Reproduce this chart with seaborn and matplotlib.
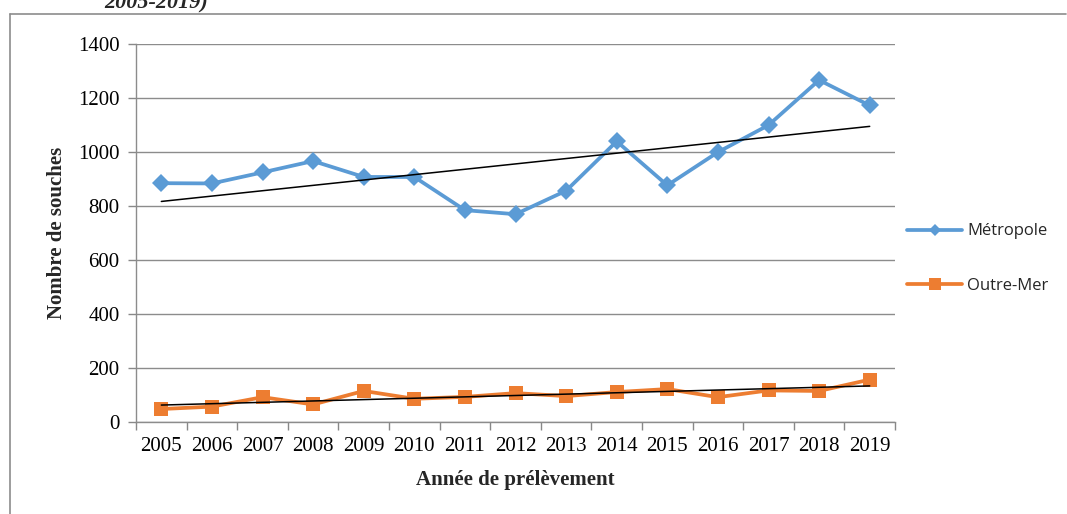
import numpy as np
import pandas as pd
import matplotlib
matplotlib.use("Agg")
import matplotlib.pyplot as plt
from matplotlib.lines import Line2D
import seaborn as sns

years = list(range(2005, 2020))
metropole = [885, 884, 925, 967, 908, 908, 785, 770, 857, 1040, 877, 1000, 1100, 1267, 1173]
outre_mer = [48, 57, 92, 65, 115, 86, 93, 107, 96, 111, 122, 92, 117, 115, 157]
series_names = ["Métropole", "Outre-Mer"]
y_ticks = [0, 200, 400, 600, 800, 1000, 1200, 1400]

sns.set_theme(style="white")
plt.rcParams["font.family"] = ["Liberation Serif", "DejaVu Serif"]

df = pd.DataFrame({
    "Année": years * 2,
    "Nombre": metropole + outre_mer,
    "Série": [series_names[0]] * len(years) + [series_names[1]] * len(years),
})

fig = plt.figure(figsize=(10.67, 5.14), dpi=100)
ax = fig.add_axes([0.1275, 0.179, 0.7113, 0.735])

blue = "#5B9BD5"
orange = "#ED7D31"
sns.lineplot(data=df, x="Année", y="Nombre", hue="Série", style="Série",
             palette={series_names[0]: blue, series_names[1]: orange},
             markers={series_names[0]: "D", series_names[1]: "s"},
             dashes=False, linewidth=2.7, markersize=9.5,
             markeredgewidth=0, ax=ax, legend=False)

# linear trend lines
for vals in (metropole, outre_mer):
    a, b = np.polyfit(years, vals, 1)
    xs = np.array([years[0], years[-1]])
    ax.plot(xs, a * xs + b, color="black", linewidth=1.1, zorder=5)

ax.set_xlim(2004.5, 2019.5)
ax.set_ylim(0, 1400)
ax.set_yticks(y_ticks)
ax.set_xticks(years)
ax.set_xticks(np.arange(2004.5, 2020, 1.0), minor=True)
ax.tick_params(axis="x", which="major", length=0, labelsize=15, pad=11, colors="black")
ax.tick_params(axis="x", which="minor", length=6, width=1, color="#888888", direction="out", bottom=True)
ax.tick_params(axis="y", which="major", length=6, width=1, color="#888888", direction="out",
               labelsize=15, pad=6, left=True, labelcolor="black")
ax.grid(axis="y", color="#8c8c8c", linewidth=1)
ax.set_axisbelow(True)
for side in ("top", "right"):
    ax.spines[side].set_visible(False)
for side in ("left", "bottom"):
    ax.spines[side].set_color("#8c8c8c")
    ax.spines[side].set_linewidth(1)

ax.set_xlabel("Année de prélèvement", fontsize=15, fontweight="bold", labelpad=10)
ax.set_ylabel("Nombre de souches", fontsize=15, fontweight="bold", labelpad=8)

handles = [
    Line2D([], [], color=blue, marker="D", markersize=6, linewidth=2.7, markeredgewidth=0),
    Line2D([], [], color=orange, marker="s", markersize=8, linewidth=2.7, markeredgewidth=0),
]
fig.legend(handles, series_names, loc="center left", bbox_to_anchor=(0.838, 0.497),
           frameon=False, handlelength=3.3, labelspacing=2.3, handletextpad=0.3,
           borderpad=0.3, prop={"family": ["Open Sans", "DejaVu Sans"], "size": 12})

# outer frame of the figure (top and left edges)
fig.add_artist(Line2D([10 / 1067, 1066 / 1067], [1 - 14 / 514, 1 - 14 / 514],
                      transform=fig.transFigure, color="#8c8c8c", linewidth=1.2))
fig.add_artist(Line2D([10 / 1067, 10 / 1067], [0, 1 - 14 / 514],
                      transform=fig.transFigure, color="#8c8c8c", linewidth=1.2))

fig.text(104 / 1067, 1 - 8 / 514, "2005-2019)", fontsize=16, fontweight="bold",
         fontstyle="italic", va="baseline", ha="left")

fig.savefig("out.png", dpi=100, facecolor="white")
